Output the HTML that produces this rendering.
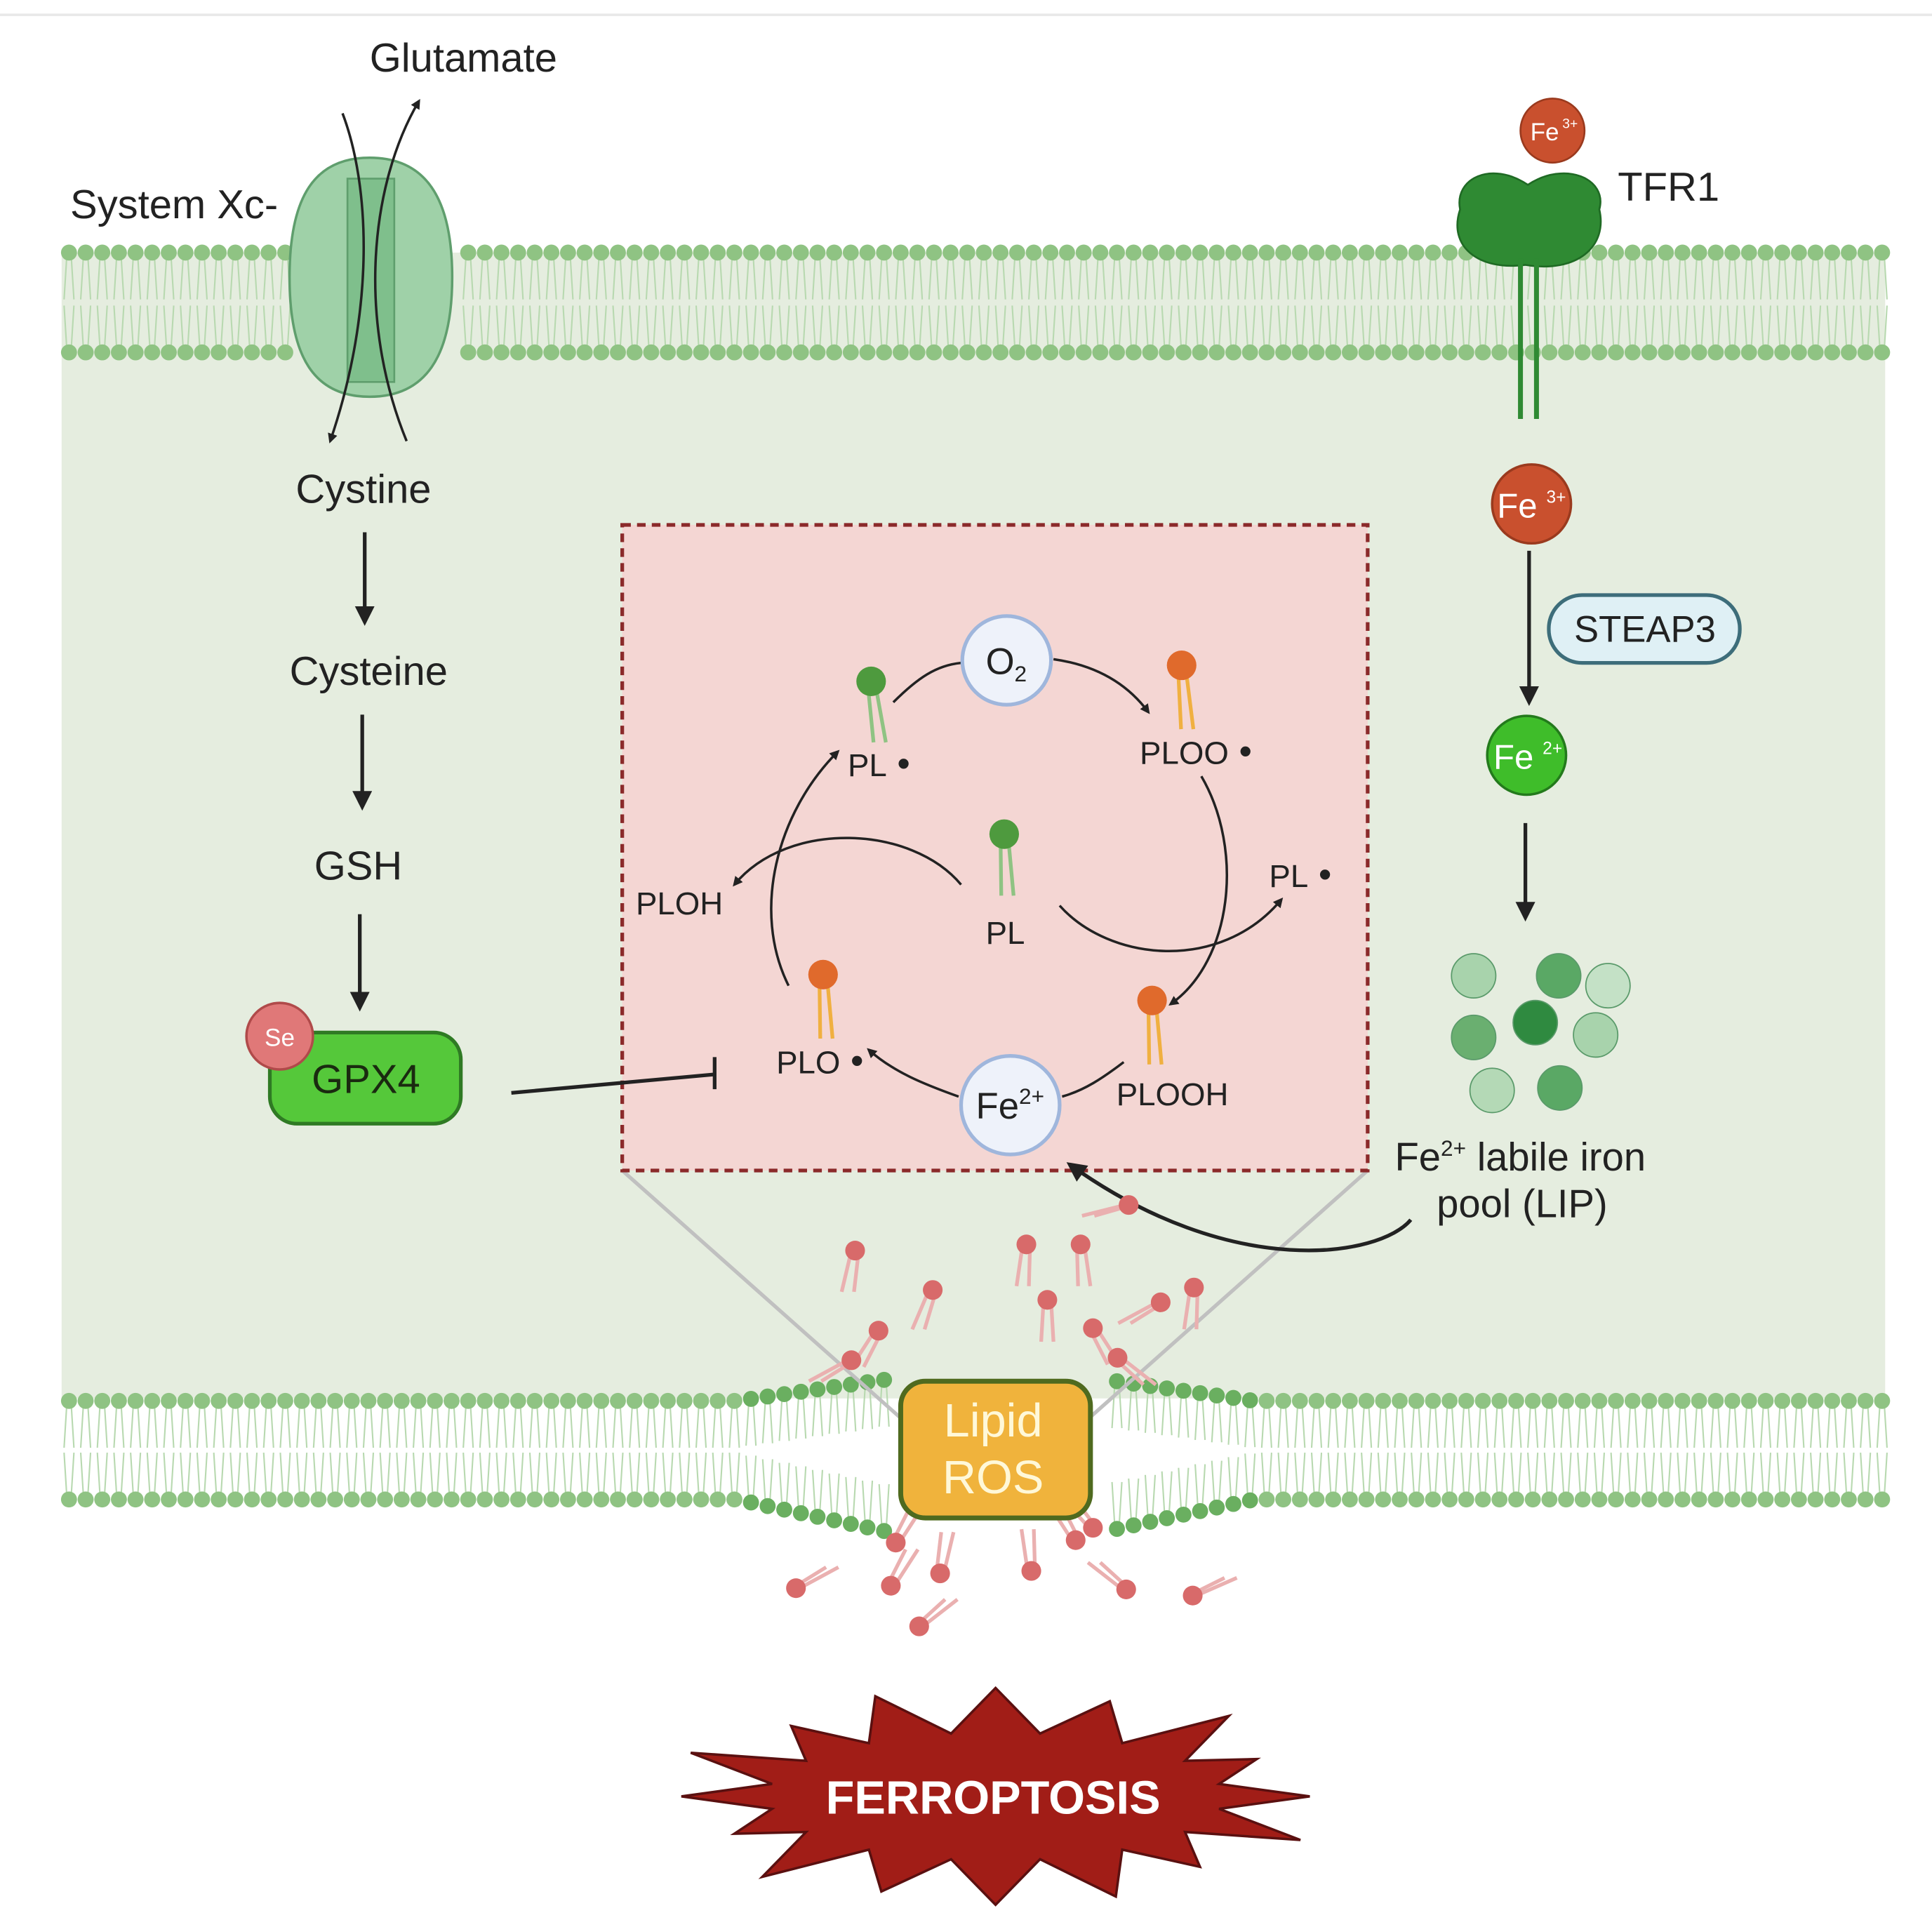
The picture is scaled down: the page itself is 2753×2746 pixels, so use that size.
<!DOCTYPE html>
<html><head><meta charset="utf-8"><style>
html,body{margin:0;padding:0;background:#fff;}
svg{display:block;}
text{font-family:"Liberation Sans",sans-serif;}
</style></head><body>
<svg id="s" width="2753" height="2746" viewBox="0 0 1568 1564" preserveAspectRatio="none" xmlns="http://www.w3.org/2000/svg">
<defs>
<marker id="ah" markerWidth="8" markerHeight="8" refX="6" refY="4" orient="auto" markerUnits="userSpaceOnUse"><path d="M0,0 L8,4 L0,8 Z" fill="#222"/></marker>
<marker id="ab" markerWidth="16" markerHeight="16" refX="13" refY="8" orient="auto" markerUnits="userSpaceOnUse"><path d="M0,0 L16,8 L0,16 Z" fill="#222"/></marker>
</defs>
<rect width="1568" height="1564" fill="#fff"/>
<line x1="0" y1="12" x2="1568" y2="12" stroke="#e8e8e8" stroke-width="2"/>
<rect x="50" y="205" width="1480" height="930" fill="#e5eddf"/>
<g id="mem"></g>
<!-- system xc -->
<path d="M300,128 C255,128 235,160 235,225 C235,290 255,322 300,322 C345,322 367,290 367,225 C367,160 345,128 300,128 Z" fill="#9fd1a8" stroke="#5f9e6d" stroke-width="2"/>
<path d="M282,145 L320,145 L320,310 L282,310 Z" fill="#7fbf8c" stroke="#5f9e6d" stroke-width="1.5"/>
<path d="M278,92 C300,150 305,250 268,358" fill="none" stroke="#222" stroke-width="2" marker-end="url(#ah)"/>
<path d="M330,358 C290,260 300,150 340,82" fill="none" stroke="#222" stroke-width="2" marker-end="url(#ah)"/>
<text x="300" y="58" font-size="33" fill="#222">Glutamate</text>
<text x="57" y="177" font-size="33" fill="#222">System Xc-</text>
<text x="240" y="408" font-size="33" fill="#222">Cystine</text>
<text x="235" y="556" font-size="33" fill="#222">Cysteine</text>
<text x="255" y="714" font-size="33" fill="#222">GSH</text>
<g stroke="#222" stroke-width="3" fill="none">
<line x1="296" y1="432" x2="296" y2="505" marker-end="url(#ab)"/>
<line x1="294" y1="580" x2="294" y2="655" marker-end="url(#ab)"/>
<line x1="292" y1="742" x2="292" y2="818" marker-end="url(#ab)"/>
</g>
<rect x="219" y="838" width="155" height="74" rx="22" fill="#55c83a" stroke="#2f7a24" stroke-width="3"/>
<text x="297" y="887" font-size="33" fill="#1a2a10" text-anchor="middle">GPX4</text>
<circle cx="227" cy="841" r="27" fill="#e07878" stroke="#b04a4a" stroke-width="2"/>
<text x="227" y="849" font-size="20" fill="#fff" text-anchor="middle">Se</text>
<!-- TFR1 -->
<circle cx="1260" cy="106" r="26" fill="#c9502e" stroke="#9a3a1e" stroke-width="1.5"/>
<text x="1242" y="114" font-size="20" fill="#fff">Fe</text><text x="1268" y="104" font-size="11" fill="#fff">3+</text>
<path d="M1240,150 C1210,130 1180,145 1185,170 C1175,200 1200,220 1238,215 C1280,222 1305,200 1298,170 C1305,145 1270,130 1240,150 Z" fill="#2f8a33" stroke="#1f6a24" stroke-width="1.5"/>
<line x1="1234" y1="210" x2="1234" y2="340" stroke="#2f8a33" stroke-width="4"/>
<line x1="1247" y1="210" x2="1247" y2="340" stroke="#2f8a33" stroke-width="4"/>
<text x="1313" y="163" font-size="33" fill="#222">TFR1</text>
<circle cx="1243" cy="409" r="32" fill="#c9502e" stroke="#9a3a1e" stroke-width="2"/>
<text x="1215" y="420" font-size="28" fill="#fff">Fe</text><text x="1255" y="408" font-size="14" fill="#fff">3+</text>
<line x1="1241" y1="447" x2="1241" y2="570" stroke="#222" stroke-width="3" marker-end="url(#ab)"/>
<rect x="1257" y="483" width="155" height="55" rx="27" fill="#dff0f5" stroke="#3d6d7a" stroke-width="3"/>
<text x="1335" y="521" font-size="30" fill="#222" text-anchor="middle">STEAP3</text>
<circle cx="1239" cy="613" r="32" fill="#3fbd2a" stroke="#237a1c" stroke-width="2"/>
<text x="1212" y="624" font-size="28" fill="#fff">Fe</text><text x="1252" y="612" font-size="14" fill="#fff">2+</text>
<line x1="1238" y1="668" x2="1238" y2="745" stroke="#222" stroke-width="3" marker-end="url(#ab)"/>
<g stroke="#5a9a6a" stroke-width="1">
<circle cx="1196" cy="792" r="18" fill="#a8d3ac"/>
<circle cx="1265" cy="792" r="18" fill="#5aa865"/>
<circle cx="1305" cy="800" r="18" fill="#c4e1c6"/>
<circle cx="1196" cy="842" r="18" fill="#6aaf70"/>
<circle cx="1246" cy="830" r="18" fill="#2f8a40"/>
<circle cx="1295" cy="840" r="18" fill="#a8d3ac"/>
<circle cx="1211" cy="885" r="18" fill="#b4d9b6"/>
<circle cx="1266" cy="883" r="18" fill="#5aa865"/>
</g>
<text x="1132" y="950" font-size="32" fill="#222">Fe<tspan font-size="18" dy="-12">2+</tspan><tspan dy="12"> labile iron</tspan></text>
<text x="1166" y="988" font-size="32" fill="#222">pool (LIP)</text>
<!-- dashed box -->
<line x1="505" y1="950" x2="730" y2="1150" stroke="#c0c0c0" stroke-width="3"/>
<line x1="1110" y1="950" x2="885" y2="1150" stroke="#c0c0c0" stroke-width="3"/>
<rect x="505" y="426" width="605" height="524" fill="#f4d6d3" stroke="#8b2a2a" stroke-width="3" stroke-dasharray="7,5"/>
<line x1="415" y1="887" x2="580" y2="872" stroke="#222" stroke-width="3"/>
<line x1="580" y1="858" x2="580" y2="884" stroke="#222" stroke-width="3"/>
<g fill="none" stroke="#222" stroke-width="2">
<path d="M725,570 C745,550 760,540 780,538" />
<path d="M855,535 C890,540 915,555 932,578" marker-end="url(#ah)"/>
<path d="M975,630 C1010,690 1000,780 950,815" marker-end="url(#ah)"/>
<path d="M912,862 C895,875 880,885 862,890"/>
<path d="M778,890 C750,880 725,870 705,852" marker-end="url(#ah)"/>
<path d="M640,800 C610,740 630,660 680,610" marker-end="url(#ah)"/>
<path d="M780,718 C740,670 640,665 596,718" marker-end="url(#ah)"/>
<path d="M860,735 C900,780 990,790 1040,730" marker-end="url(#ah)"/>
<path d="M1145,990 C1120,1020 1000,1040 868,945" stroke-width="3" marker-end="url(#ab)"/>
</g>
<circle cx="817" cy="536" r="36" fill="#eef2fa" stroke="#9fb6dc" stroke-width="3"/>
<text x="800" y="547" font-size="30" fill="#222">O<tspan font-size="18" dy="6">2</tspan></text>
<circle cx="820" cy="897" r="40" fill="#eef2fa" stroke="#9fb6dc" stroke-width="3"/>
<text x="792" y="908" font-size="30" fill="#222">Fe<tspan font-size="18" dy="-12">2+</tspan></text>
<g id="lipids"></g>
<g font-size="26" fill="#222">
<text x="688" y="630">PL<tspan font-size="30"> •</tspan></text>
<text x="925" y="620">PLOO<tspan font-size="30"> •</tspan></text>
<text x="1030" y="720">PL<tspan font-size="30"> •</tspan></text>
<text x="516" y="742">PLOH</text>
<text x="800" y="766">PL</text>
<text x="630" y="871">PLO<tspan font-size="30"> •</tspan></text>
<text x="906" y="897">PLOOH</text>
</g>
<g id="ros"></g>
<rect x="731" y="1121" width="154" height="111" rx="20" fill="#f0b33c" stroke="#4f6a1f" stroke-width="4"/>
<text x="806" y="1166" font-size="38" fill="#fff8d8" text-anchor="middle">Lipid</text>
<text x="806" y="1212" font-size="38" fill="#fff8d8" text-anchor="middle">ROS</text>
<polygon id="star" fill="#a11d17" stroke="#5a1010" stroke-width="2"/>
<text x="806" y="1472" font-size="38" font-weight="bold" fill="#fff" text-anchor="middle">FERROPTOSIS</text>
</svg>
<script>
var NS="http://www.w3.org/2000/svg";
function el(p,n,a){var e=document.createElementNS(NS,n);for(var k in a)e.setAttribute(k,a[k]);p.appendChild(e);return e;}
var mem=document.getElementById('mem');
var G="#8fc383",T="#b8d9b0";
for(var x=56;x<=1530;x+=13.5){
 if(x>235&&x<367)continue;
 el(mem,'path',{d:'M'+(x-2)+',211 l-2,32 M'+(x+2)+',211 l2,32 M'+(x-2)+',280 l-2,-32 M'+(x+2)+',280 l2,-32',stroke:T,'stroke-width':1.2,fill:'none'});
 el(mem,'circle',{cx:x,cy:205,r:6.5,fill:G});
 el(mem,'circle',{cx:x,cy:286,r:6.5,fill:G});
}
for(var x=56;x<=1535;x+=13.5){
 if(x>720&&x<895)continue;
 var d=Math.abs(x-808), f=d<210?(1-d/210):0;
 var yy1=1137-f*30, y2=1217+f*45;
 el(mem,'path',{d:'M'+(x-2)+','+(yy1+6)+' l-2,32 M'+(x+2)+','+(yy1+6)+' l2,32 M'+(x-2)+','+(y2-6)+' l-2,-32 M'+(x+2)+','+(y2-6)+' l2,-32',stroke:T,'stroke-width':1.2,fill:'none'});
 el(mem,'circle',{cx:x,cy:yy1,r:6.5,fill:f>0?"#6aaf60":G});
 el(mem,'circle',{cx:x,cy:y2,r:6.5,fill:f>0?"#6aaf60":G});
}
var L=document.getElementById('lipids');
function lip(p,x,y,c,t,len,ang){var a=(ang||0)*Math.PI/180;var dx=Math.sin(a),dy=Math.cos(a);
 el(p,'path',{d:'M'+(x-3)+','+y+' l'+(-dx*len-2)+','+(dy*len)+' M'+(x+3)+','+y+' l'+(-dx*len+2)+','+(dy*len),stroke:t,'stroke-width':3,fill:'none'});
 el(p,'circle',{cx:x,cy:y,r:12,fill:c});}
lip(L,707,553,'#4e9a3e','#8fc383',50,-8);
lip(L,959,540,'#e06a2c','#f0b040',52,-5);
lip(L,815,677,'#4e9a3e','#8fc383',50,-3);
lip(L,668,791,'#e06a2c','#f0b040',52,-3);
lip(L,935,812,'#e06a2c','#f0b040',52,-3);
var R=document.getElementById('ros');
var rl=[[694,1015,10],[833,1010,5],[877,1010,-5],[757,1047,20],[850,1055,0],[942,1057,60],[969,1045,5],[713,1080,30],[887,1078,-30],[907,1102,-50],[691,1104,60],[916,978,75],
[727,1252,-150],[763,1277,-170],[837,1275,175],[873,1250,150],[887,1240,140],[914,1290,130],[968,1295,-115],[646,1289,-120],[723,1287,-150],[746,1320,-130]];
rl.forEach(function(r){lip(R,r[0],r[1],'#d86a6a','#eab0b0',34,r[2]);R.lastChild.setAttribute('r',8);});
// star: spiky
var pts=[],cx=808,cy=1458,n=16;
var outR=[[0,1.0],[1,1.0],[2,1.0]];
for(var i=0;i<n*2;i++){
 var a=i/(n*2)*Math.PI*2 - Math.PI/2;
 var o=(i%2==0);
 var rx=o?255:185, ry=o?88:52;
 if(o){var k=[1,0.95,1.05,0.9,1,1.05,0.92,1,1,0.95,1.05,0.9,1,1.05,0.92,1][i/2];rx*=k;ry*=k;}
 pts.push((cx+rx*Math.cos(a)).toFixed(1)+','+(cy+ry*Math.sin(a)).toFixed(1));
}
document.getElementById('star').setAttribute('points',pts.join(' '));
</script>
</body></html>
